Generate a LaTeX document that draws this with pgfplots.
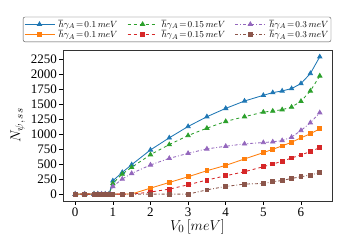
\documentclass[border=0pt]{standalone}
\usepackage{fontspec}
\setmainfont{Liberation Serif}
\usepackage{pgfplots}
\pgfplotsset{compat=1.18}
\definecolor{c1}{HTML}{1F77B4}
\definecolor{c2}{HTML}{FF7F0E}
\definecolor{c3}{HTML}{2CA02C}
\definecolor{c4}{HTML}{D62728}
\definecolor{c5}{HTML}{9467BD}
\definecolor{c6}{HTML}{8C564B}
\begin{document}
\begin{tikzpicture}
\path[use as bounding box] (-63pt,-49pt) rectangle (287pt,201pt);
\begin{axis}[
  scale only axis, width=269pt, height=151pt,
  xmin=-0.325, xmax=6.825, ymin=-114.5, ymax=2405,
  xtick={0,1,2,3,4,5,6},
  ytick={0,250,500,750,1000,1250,1500,1750,2000,2250},
  tick align=outside, tick pos=left,
  tick style={black, line width=0.6pt}, major tick length=3.5pt,
  /pgf/number format/assume math mode=true,
  /pgf/number format/1000 sep={},
  ticklabel style={font=\fontsize{13}{14}\selectfont},
  yticklabel style={xshift=1pt},
  xlabel={$V_0\,[meV]$}, ylabel={$N_{\psi,\,ss}$},
  label style={font=\fontsize{15}{16}\selectfont},
  xlabel style={yshift=4pt}, ylabel style={yshift=-1pt},
  axis line style={black!80, line width=0.6pt},
  legend columns=3,
  legend style={at={(0.424,1.22)}, anchor=north, font=\fontsize{9.5}{10}\selectfont,
    rounded corners=2pt, draw=black!70, row sep=-2.5pt, inner xsep=1pt, inner ysep=1pt,
    nodes={inner xsep=1.5pt},
    /tikz/every odd column/.append style={column sep=2pt},
    /tikz/every even column/.append style={column sep=8pt}},
  legend cell align=left,
  legend image code/.code={\draw[mark repeat=2,mark phase=2] plot coordinates {(0pt,0pt)(15pt,0pt)(30pt,0pt)};},
  every axis plot/.append style={line width=0.85pt, mark size=2.4pt},
]
\addplot[c1, solid, mark=triangle*, mark options={solid}] coordinates {
(0,0)(0.25,0)(0.5,0)(0.6,0)(0.7,0)(0.8,0)(0.9,0)(1,223)(1.25,363)(1.5,491)(2,738)(2.5,940)(3,1129)(3.5,1292)(4,1431)(4.5,1554)(5,1649)(5.25,1694)(5.5,1722)(5.75,1761)(6,1845)(6.25,2013)(6.5,2292)};
\addlegendentry{$\hbar\gamma_A\!=\!0.1\,meV$}
\addplot[c3, dashed, mark=triangle*, mark options={solid}] coordinates {
(0,0)(0.25,0)(0.5,0)(0.6,0)(0.7,0)(0.8,0)(0.9,0)(1,178)(1.25,335)(1.5,447)(2,659)(2.5,827)(3,978)(3.5,1101)(4,1213)(4.5,1292)(5,1369)(5.25,1386)(5.5,1409)(5.75,1453)(6,1549)(6.25,1722)(6.5,1973)};
\addlegendentry{$\hbar\gamma_A\!=\!0.15\,meV$}
\addplot[c5, dashdotted, mark=triangle*, mark options={solid}] coordinates {
(0,0)(0.25,0)(0.5,0)(0.6,0)(0.7,0)(0.8,0)(0.9,0)(1,128)(1.25,252)(1.5,346)(2,487)(2.5,597)(3,681)(3.5,755)(4,799)(4.5,839)(5,861)(5.25,873)(5.5,894)(5.75,950)(6,1062)(6.25,1191)(6.5,1359)};
\addlegendentry{$\hbar\gamma_A\!=\!0.3\,meV$}
\addplot[c2, solid, mark=square*, mark size=1.9pt, mark options={solid}] coordinates {
(0,0)(0.25,0)(0.5,0)(0.6,0)(0.7,0)(0.8,0)(0.9,0)(1,0)(1.25,0)(1.5,3)(2,100)(2.5,195)(3,290)(3.5,391)(4,480)(4.5,587)(5,693)(5.25,748)(5.5,805)(5.75,866)(6,940)(6.25,1007)(6.5,1091)};
\addlegendentry{$\hbar\gamma_A\!=\!0.1\,meV$}
\addplot[c4, dashed, mark=square*, mark size=1.9pt, mark options={solid}] coordinates {
(0,0)(0.25,0)(0.5,0)(0.6,0)(0.7,0)(0.8,0)(0.9,0)(1,0)(1.25,0)(1.5,0)(2,35)(2.5,84)(3,156)(3.5,235)(4,307)(4.5,374)(5,458)(5.25,503)(5.5,547)(5.75,604)(6,654)(6.25,710)(6.5,777)};
\addlegendentry{$\hbar\gamma_A\!=\!0.15\,meV$}
\addplot[c6, dashdotted, mark=square*, mark size=1.9pt, mark options={solid}] coordinates {
(0,0)(0.25,0)(0.5,0)(0.6,0)(0.7,0)(0.8,0)(0.9,0)(1,0)(1.25,0)(1.5,0)(2,0)(2.5,0)(3,0)(3.5,72)(4,128)(4.5,168)(5,178)(5.25,206)(5.5,228)(5.75,262)(6,290)(6.25,319)(6.5,362)};
\addlegendentry{$\hbar\gamma_A\!=\!0.3\,meV$}
\end{axis}
\end{tikzpicture}
\end{document}
